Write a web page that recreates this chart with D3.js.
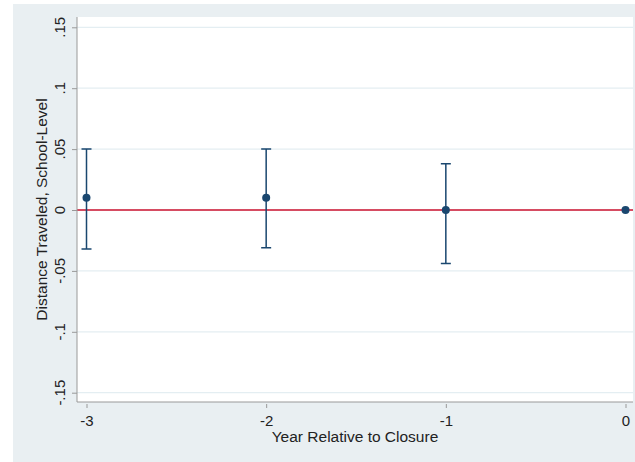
<!DOCTYPE html>
<html>
<head>
<meta charset="utf-8">
<script src="https://cdn.jsdelivr.net/npm/d3@7"></script>
<style>
  body { margin: 0; background: #fff; }
  text { font-family: "Liberation Sans", Arial, sans-serif; fill: #222; }
</style>
</head>
<body>
<div id="chart"></div>
<script>
'use strict'
// data
var years = [-3, -2, -1, 0]
var estimates = [0.01, 0.01, 0.0, 0.0]
var ciLow = [-0.032, -0.031, -0.044, null]
var ciHigh = [0.05, 0.05, 0.038, null]
var xTicks = [-3, -2, -1, 0]
var xTickLabels = ['-3', '-2', '-1', '0']
var yTicks = [0.15, 0.1, 0.05, 0, -0.05, -0.1, -0.15]
var yTickLabels = ['.15', '.1', '.05', '0', '-.05', '-.1', '-.15']

var W = 635, H = 462
var plot = {left: 77, right: 633, top: 17, bottom: 402}
var navy = '#1a476f'

var svg = d3.select('#chart').append('svg')
  .attr('width', W).attr('height', H)

// outer background
svg.append('rect')
  .attr('x', 13).attr('y', 4)
  .attr('width', W - 13).attr('height', H - 4)
  .attr('fill', '#e9eff2')

svg.append('rect')
  .attr('x', plot.left).attr('y', plot.top)
  .attr('width', plot.right - plot.left).attr('height', plot.bottom - plot.top)
  .attr('fill', '#fff')

var x = d3.scaleLinear().domain([-3, 0]).range([86.5, 625.5])
var y = d3.scaleLinear().domain([-0.15, 0.15]).range([392.7, 27.3])

// gridlines
svg.append('g').selectAll('line')
  .data(yTicks.filter(d => d !== 0))
  .join('line')
  .attr('x1', plot.left).attr('x2', plot.right)
  .attr('y1', d => y(d)).attr('y2', d => y(d))
  .attr('stroke', '#e4eef2')
  .attr('stroke-width', 1.2)

// zero line
svg.append('line')
  .attr('x1', plot.left).attr('x2', plot.right)
  .attr('y1', y(0)).attr('y2', y(0))
  .attr('stroke', '#c8102e')
  .attr('stroke-width', 1.6)

// y axis
var yAxis = d3.axisLeft(y)
  .tickValues(yTicks)
  .tickSize(5)
  .tickFormat('')
var gy = svg.append('g')
  .attr('transform', `translate(${plot.left},0)`)
  .call(yAxis)
gy.select('.domain').attr('stroke', '#999').attr('d', `M0,${plot.top}V${plot.bottom}`)
gy.selectAll('.tick line').attr('stroke', '#999')

svg.append('g').selectAll('text')
  .data(yTicks)
  .join('text')
  .attr('transform', (d, i) => `translate(65,${y(d)}) rotate(-90)`)
  .attr('text-anchor', 'middle')
  .attr('font-size', '15px')
  .text((d, i) => yTickLabels[i])

// x axis
var xAxis = d3.axisBottom(x)
  .tickValues(xTicks)
  .tickSize(6)
  .tickFormat((d, i) => xTickLabels[i])
var gx = svg.append('g')
  .attr('transform', `translate(0,${plot.bottom})`)
  .call(xAxis)
gx.select('.domain').attr('stroke', '#999').attr('d', `M${plot.left},0H${plot.right}`)
gx.selectAll('.tick line').attr('stroke', '#999').attr('y1', 2)
gx.selectAll('.tick text')
  .attr('font-size', '15px')
  .attr('font-family', '"Liberation Sans", Arial, sans-serif')
  .attr('fill', '#222')
  .attr('y', 13)

// axis titles
svg.append('text')
  .attr('x', (plot.left + plot.right) / 2)
  .attr('y', 442)
  .attr('text-anchor', 'middle')
  .attr('font-size', '15.5px')
  .text('Year Relative to Closure')

svg.append('text')
  .attr('transform', `translate(47,${(plot.top + plot.bottom) / 2}) rotate(-90)`)
  .attr('text-anchor', 'middle')
  .attr('font-size', '15.5px')
  .text('Distance Traveled, School-Level')

// error bars
var bars = years.map((d, i) => ({year: d, lo: ciLow[i], hi: ciHigh[i]}))
  .filter(d => d.lo !== null)
var eb = svg.append('g').attr('stroke', navy).attr('stroke-width', 1.5).attr('fill', 'none')
eb.selectAll('path')
  .data(bars)
  .join('path')
  .attr('d', d => {
    var cx = x(d.year)
    return `M${cx - 5},${y(d.hi)}H${cx + 5}M${cx},${y(d.hi)}V${y(d.lo)}M${cx - 5},${y(d.lo)}H${cx + 5}`
  })

// point estimates
svg.append('g').selectAll('circle')
  .data(years.map((d, i) => ({year: d, est: estimates[i]})))
  .join('circle')
  .attr('cx', d => x(d.year))
  .attr('cy', d => y(d.est))
  .attr('r', 4)
  .attr('fill', navy)
</script>
</body>
</html>
